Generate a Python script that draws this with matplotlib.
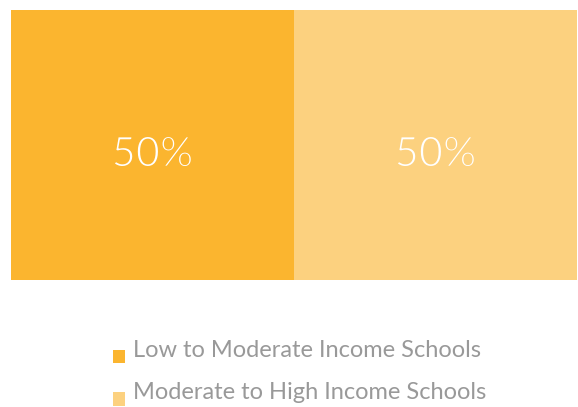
import matplotlib.pyplot as plt
import matplotlib.patheffects as pe
from matplotlib.patches import Patch, Rectangle
from matplotlib.legend_handler import HandlerPatch

# dados
categorias = ["Low to Moderate Income Schools", "Moderate to High Income Schools"]
valores = [50, 50]
cores = ["#FBB52F", "#FCD17F"]

fig = plt.figure(figsize=(5.78, 4.07), dpi=100)
ax = fig.add_axes([11 / 578, 1 - 280 / 407, 566 / 578, 270 / 407])

esquerda = 0
for valor, cor in zip(valores, cores):
    ax.barh([0], [valor], left=esquerda, height=1, color=cor, linewidth=0)
    # contorno na cor do fundo para afinar a letra (estilo "light")
    ax.text(esquerda + valor / 2, -0.035, f"{valor}%", ha="center", va="center",
            color="white", fontsize=30, family="Lato", fontweight="normal",
            path_effects=[pe.Stroke(linewidth=1.1, foreground=cor)])
    esquerda += valor

ax.set_xlim(0, sum(valores))
ax.set_ylim(-0.5, 0.5)
ax.axis("off")


# quadradinho da legenda um pouco abaixo do centro do texto
def quadrado(legend, orig_handle, xdescent, ydescent, width, height, fontsize):
    return Rectangle((-xdescent, -ydescent - 0.6 * height), width, height)


handles = [Patch(facecolor=c, edgecolor="none") for c in cores]
leg = fig.legend(handles, categorias, loc="upper left",
                 bbox_to_anchor=(113 / 578, 1 - 340 / 407), frameon=False,
                 prop={"family": "Lato", "size": 17},
                 handlelength=0.5, handleheight=0.5, handletextpad=0.35,
                 labelspacing=0.9, borderaxespad=0, borderpad=0,
                 handler_map={Patch: HandlerPatch(patch_func=quadrado)})
for t in leg.get_texts():
    t.set_color("#999999")

fig.savefig("out.png", dpi=100)
